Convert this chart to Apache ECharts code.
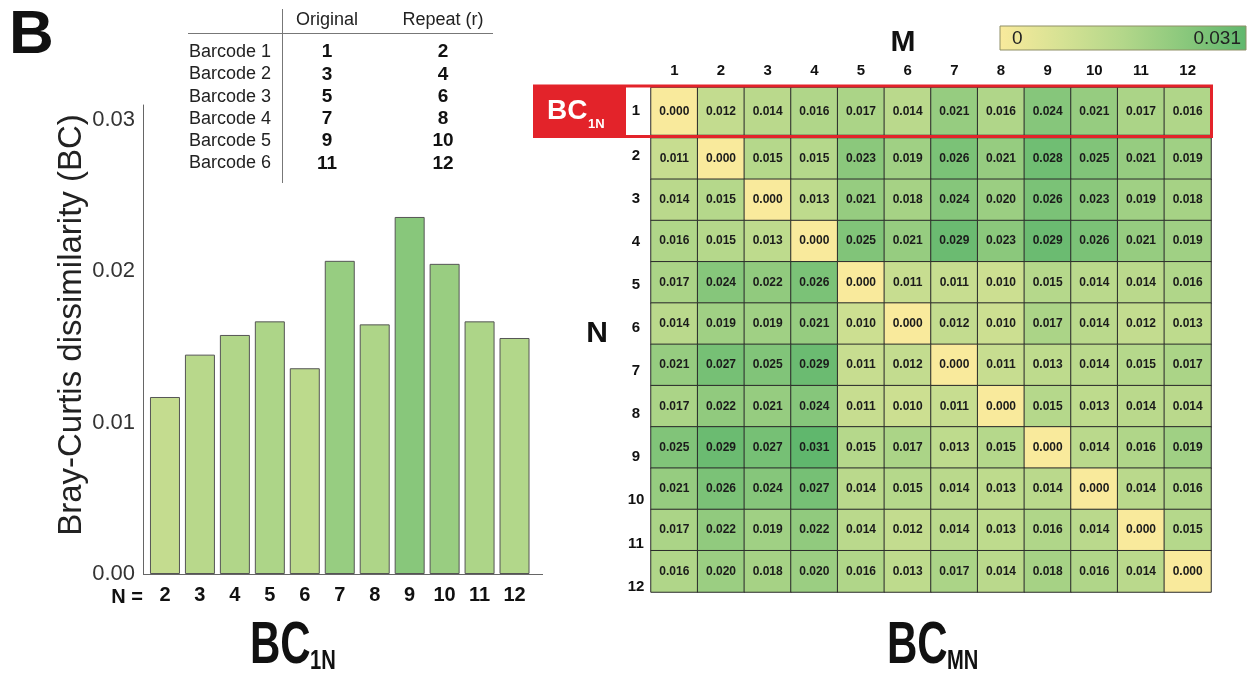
<!DOCTYPE html>
<html><head><meta charset="utf-8">
<script src="https://cdn.jsdelivr.net/npm/echarts@6/dist/echarts.min.js"></script>
<style>html,body{margin:0;padding:0;background:#fff}#c{width:1255px;height:675px}</style>
</head><body><div id="c"></div>
<script>
// ---------- data ----------
const BAR_CATEGORIES = ['2','3','4','5','6','7','8','9','10','11','12'];
const BAR_VALUES = [0.0117,0.0145,0.0158,0.0167,0.0136,0.0207,0.0165,0.0236,0.0205,0.0167,0.0156];
const Y_MIN = 0, Y_MAX = 0.031, Y_STEP = 0.01;

const M_LABELS = ['1','2','3','4','5','6','7','8','9','10','11','12'];
const N_LABELS = ['1','2','3','4','5','6','7','8','9','10','11','12'];
const BC_N1  = [0.000,0.012,0.014,0.016,0.017,0.014,0.021,0.016,0.024,0.021,0.017,0.016];
const BC_N2  = [0.011,0.000,0.015,0.015,0.023,0.019,0.026,0.021,0.028,0.025,0.021,0.019];
const BC_N3  = [0.014,0.015,0.000,0.013,0.021,0.018,0.024,0.020,0.026,0.023,0.019,0.018];
const BC_N4  = [0.016,0.015,0.013,0.000,0.025,0.021,0.029,0.023,0.029,0.026,0.021,0.019];
const BC_N5  = [0.017,0.024,0.022,0.026,0.000,0.011,0.011,0.010,0.015,0.014,0.014,0.016];
const BC_N6  = [0.014,0.019,0.019,0.021,0.010,0.000,0.012,0.010,0.017,0.014,0.012,0.013];
const BC_N7  = [0.021,0.027,0.025,0.029,0.011,0.012,0.000,0.011,0.013,0.014,0.015,0.017];
const BC_N8  = [0.017,0.022,0.021,0.024,0.011,0.010,0.011,0.000,0.015,0.013,0.014,0.014];
const BC_N9  = [0.025,0.029,0.027,0.031,0.015,0.017,0.013,0.015,0.000,0.014,0.016,0.019];
const BC_N10 = [0.021,0.026,0.024,0.027,0.014,0.015,0.014,0.013,0.014,0.000,0.014,0.016];
const BC_N11 = [0.017,0.022,0.019,0.022,0.014,0.012,0.014,0.013,0.016,0.014,0.000,0.015];
const BC_N12 = [0.016,0.020,0.018,0.020,0.016,0.013,0.017,0.014,0.018,0.016,0.014,0.000];
const BC_ROWS = [BC_N1,BC_N2,BC_N3,BC_N4,BC_N5,BC_N6,BC_N7,BC_N8,BC_N9,BC_N10,BC_N11,BC_N12];
const COLOR_MIN = 0, COLOR_MAX = 0.031;
const COLOR_MIN_LABEL = '0', COLOR_MAX_LABEL = '0.031';

const TABLE_BARCODES = ['Barcode 1','Barcode 2','Barcode 3','Barcode 4','Barcode 5','Barcode 6'];
const TABLE_ORIGINAL = ['1','3','5','7','9','11'];
const TABLE_REPEAT   = ['2','4','6','8','10','12'];
const TABLE_HEADERS  = ['Original','Repeat (r)'];

// ---------- styling ----------
const FONT = 'Liberation Sans, Arial, Helvetica, sans-serif';
const PALETTE = ['#f9ea9c','#d6e294','#b3d78a','#8ac87c','#60b76d'];

const heatTop = [], heatRest = [];
BC_ROWS.forEach((row, i) => row.forEach((v, j) => {
  if (i === 0) heatTop.push([j, 0, v]); else heatRest.push([j, i - 1, v]);
}));

const graphics = [];
function txt(text, x, y, o) {
  o = o || {};
  graphics.push({
    type: 'text', x, y, rotation: o.rotation || 0, scaleX: o.scaleX || 1, z: o.z || 50,
    style: { text, fill: o.fill || '#111', fontSize: o.size || 16, fontWeight: o.weight || 'normal',
      fontFamily: FONT, align: o.align || 'center', verticalAlign: o.va || 'middle' }
  });
}
function line(x1, y1, x2, y2, stroke, w) {
  graphics.push({ type: 'line', z: 40, shape: { x1, y1, x2, y2 }, style: { stroke, lineWidth: w || 1 } });
}

// panel letter
txt('B', 9, 36, { size: 62, weight: 'bold', align: 'left' });
// table
TABLE_HEADERS.forEach((h, k) => txt(h, k === 0 ? 327 : 443, 20, { size: 18, fill: '#222' }));
line(188, 33.5, 493, 33.5, '#777');
line(282.5, 9, 282.5, 183, '#777');
TABLE_BARCODES.forEach((b, i) => {
  const y = 52 + i * 22.3;
  txt(b, 189, y, { size: 18, align: 'left', fill: '#222' });
  txt(TABLE_ORIGINAL[i], 327, y, { size: 19, weight: 'bold' });
  txt(TABLE_REPEAT[i], 443, y, { size: 19, weight: 'bold' });
});
// bar chart decorations
txt('Bray-Curtis dissimilarity (BC)', 72, 325, { size: 33, rotation: Math.PI / 2, fill: '#222' });
txt('N =', 143, 597, { size: 20, weight: 'bold', align: 'right' });
line(143, 574.5, 543, 574.5, '#666');
// heatmap decorations
txt('M', 903, 43, { size: 30, weight: 'bold' });
txt('N', 597, 334, { size: 30, weight: 'bold' });
graphics.push({ type: 'rect', z: 1, shape: { x: 533, y: 85, width: 93, height: 53 }, style: { fill: '#e3232a' } });
graphics.push({ type: 'rect', z: 100, shape: { x: 534.5, y: 86, width: 677, height: 50.5 },
  style: { fill: 'none', stroke: '#e3232a', lineWidth: 3 } });
txt('BC', 547, 111, { size: 28, weight: 'bold', fill: '#fff', align: 'left', z: 101 });
txt('1N', 588, 124, { size: 13, weight: 'bold', fill: '#fff', align: 'left', z: 101 });
// colour bar
graphics.push({ type: 'rect', z: 40, shape: { x: 1000, y: 26, width: 246, height: 24 },
  style: { stroke: '#8f8f66', lineWidth: 1,
    fill: { type: 'linear', x: 0, y: 0, x2: 1, y2: 0,
      colorStops: PALETTE.map((c, k) => ({ offset: k / (PALETTE.length - 1), color: c })) } } });
txt(COLOR_MIN_LABEL, 1012, 38.5, { size: 19, align: 'left', fill: '#222' });
txt(COLOR_MAX_LABEL, 1241, 38.5, { size: 19, align: 'right', fill: '#222' });
// bottom titles
txt('BC', 250, 646, { size: 60, weight: 'bold', align: 'left', scaleX: 0.7 });
txt('1N', 310, 661, { size: 28, weight: 'bold', align: 'left', scaleX: 0.72 });
txt('BC', 887, 646, { size: 60, weight: 'bold', align: 'left', scaleX: 0.7 });
txt('MN', 947, 661, { size: 28, weight: 'bold', align: 'left', scaleX: 0.72 });

const heatLabel = { show: true, fontSize: 12, fontWeight: 'bold', color: '#1b1b1b', fontFamily: FONT,
  formatter: p => p.value[2].toFixed(3) };
const cellStyle = { borderColor: '#2a2a2a', borderWidth: 1 };
const axisLab = { fontSize: 15, fontWeight: 'bold', color: '#111', fontFamily: FONT };

const option = {
  animation: false,
  backgroundColor: '#fff',
  textStyle: { fontFamily: FONT },
  grid: [
    { left: 147.5, top: 105, width: 384.5, height: 469 },
    { left: 651, top: 87.5, width: 560, height: 47.5 },
    { left: 651, top: 138, width: 560, height: 454 },
    { left: 651, top: 134, width: 10, height: 474 }
  ],
  xAxis: [
    { gridIndex: 0, type: 'category', data: BAR_CATEGORIES, axisLine: { show: false }, axisTick: { show: false },
      axisLabel: { fontSize: 20, fontWeight: 'bold', color: '#111', margin: 11 } },
    { gridIndex: 1, type: 'category', data: M_LABELS, position: 'top', axisLine: { show: false }, axisTick: { show: false },
      axisLabel: Object.assign({ margin: 9 }, axisLab) },
    { gridIndex: 2, type: 'category', data: M_LABELS, show: false },
    { gridIndex: 3, type: 'category', data: [''], show: false }
  ],
  yAxis: [
    { gridIndex: 0, type: 'value', min: Y_MIN, max: Y_MAX, interval: Y_STEP, offset: 4.5,
      axisLine: { show: true, lineStyle: { color: '#666', width: 1 } }, axisTick: { show: false }, splitLine: { show: false },
      axisLabel: { fontSize: 22, color: '#333', margin: 8, padding: [0, 0, 10, 0],
        formatter: v => (v > 0.0305 ? '' : v.toFixed(2)) } },
    { gridIndex: 1, type: 'category', data: N_LABELS.slice(0, 1), inverse: true,
      axisLine: { show: false }, axisTick: { show: false }, axisLabel: Object.assign({ margin: 15, align: 'center' }, axisLab) },
    { gridIndex: 2, type: 'category', data: N_LABELS.slice(1), inverse: true, show: false },
    { gridIndex: 3, type: 'category', data: N_LABELS.slice(1), inverse: true,
      axisLine: { show: false }, axisTick: { show: false }, axisLabel: Object.assign({ margin: 15, align: 'center' }, axisLab) }
  ],
  visualMap: { show: false, type: 'continuous', min: COLOR_MIN, max: COLOR_MAX, seriesIndex: [0, 1, 2],
    inRange: { color: PALETTE } },
  series: [
    { type: 'bar', xAxisIndex: 0, yAxisIndex: 0, data: BAR_VALUES, barWidth: 30,
      itemStyle: { borderColor: '#555', borderWidth: 1 }, emphasis: { disabled: true } },
    { type: 'heatmap', xAxisIndex: 1, yAxisIndex: 1, data: heatTop, label: heatLabel, itemStyle: cellStyle, emphasis: { disabled: true } },
    { type: 'heatmap', xAxisIndex: 2, yAxisIndex: 2, data: heatRest, label: heatLabel, itemStyle: cellStyle, emphasis: { disabled: true } }
  ],
  graphic: { elements: graphics }
};
echarts.init(document.getElementById('c'), null, { renderer: 'canvas' }).setOption(option);
</script></body></html>
